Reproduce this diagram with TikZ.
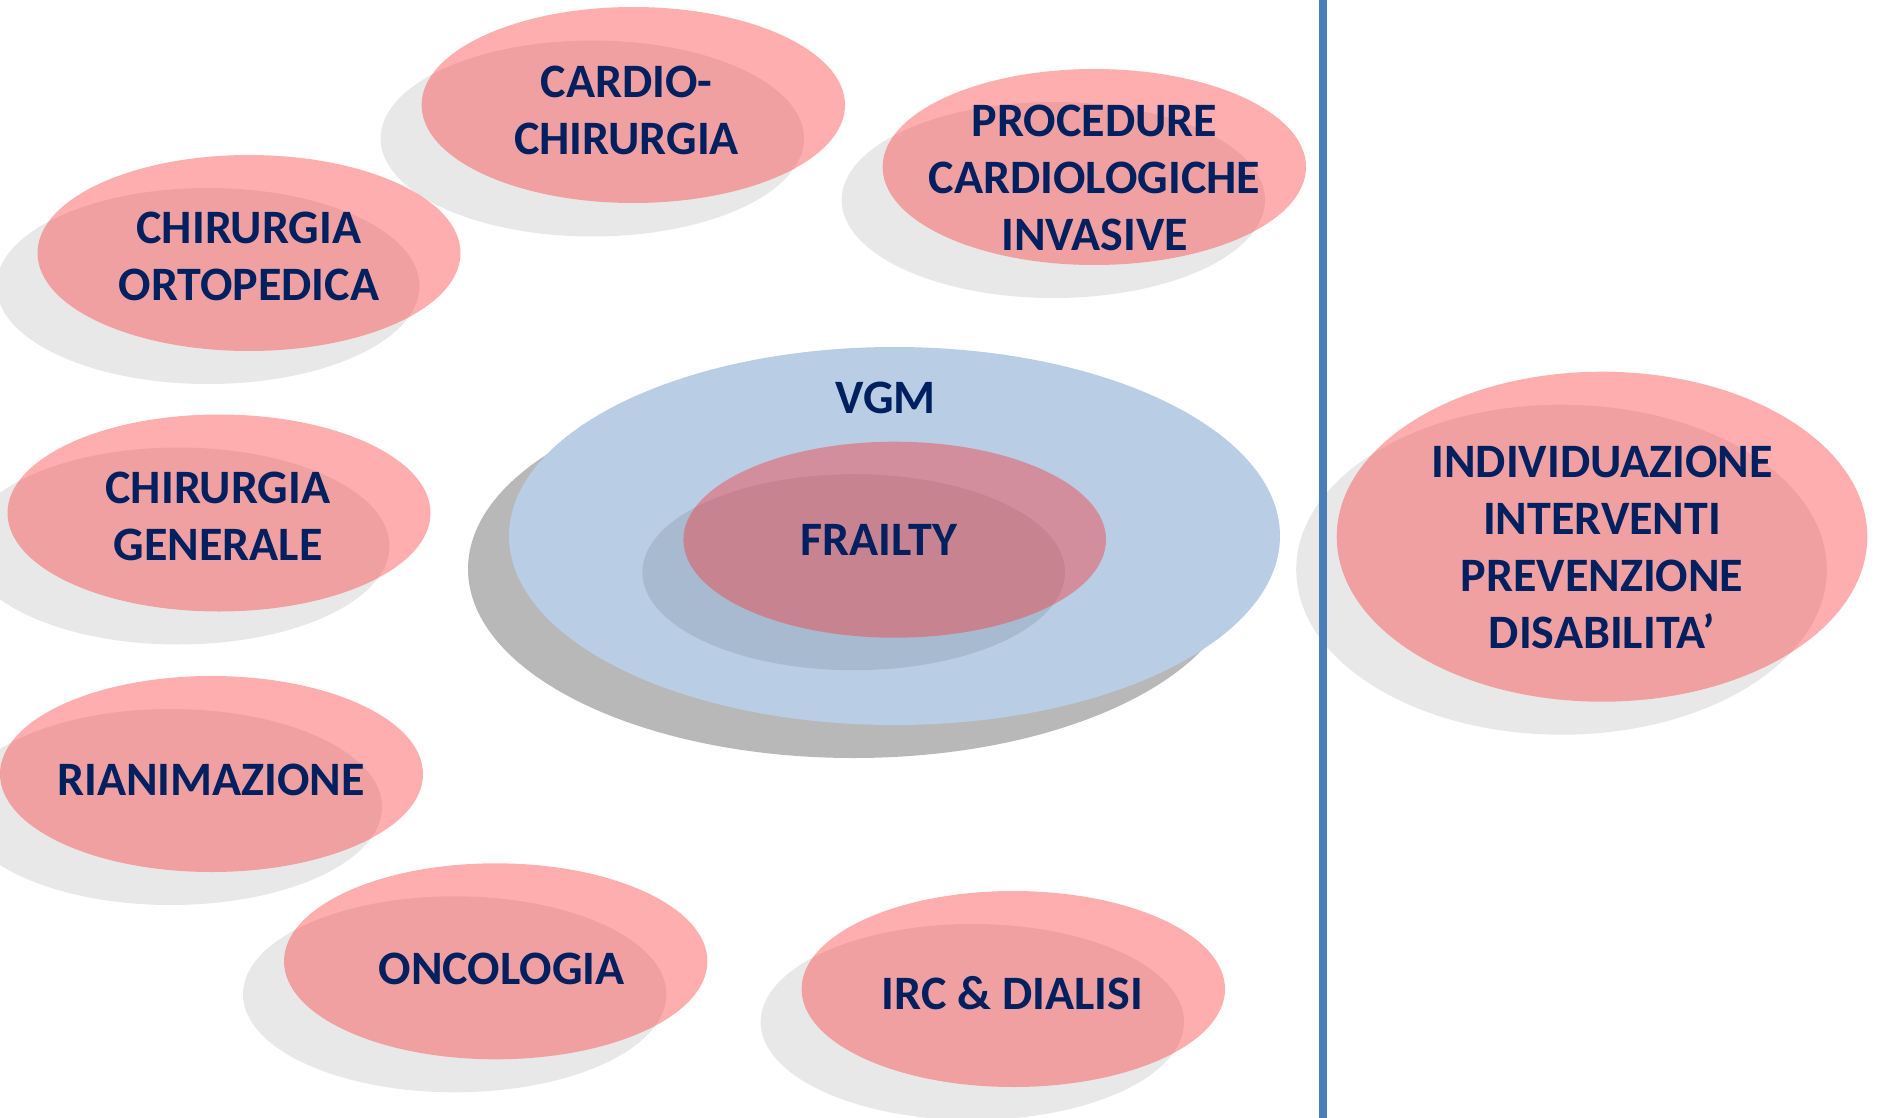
\documentclass[tikz,border=0pt]{standalone}
\usepackage{fontspec}
\setmainfont{Carlito}
\usetikzlibrary{shapes.geometric}

\definecolor{bubblepink}{RGB}{252,42,42}
\definecolor{navytext}{RGB}{0,32,96}
\definecolor{vgmblue}{RGB}{185,205,229}
\definecolor{dividerblue}{RGB}{74,126,187}

% translucent pink bubble with its soft drop shadow
% #1 name, #2 cx, #3 cy, #4 rx, #5 ry, #6 shadow dx, #7 shadow dy
\newcommand\bubbleblob[7]{%
  \fill[softshadow, shift={(#6,#7)}] (#2,#3) ellipse [x radius=#4, y radius=#5];
  \node[pinkshape, minimum width={2*#4pt}, minimum height={2*#5pt}] (#1) at (#2,#3) {};
}

\begin{document}
\begin{tikzpicture}[x=1pt,y=-1pt,
  softshadow/.style={fill=black, fill opacity=0.09},
  deepshadow/.style={fill=black!28},
  pinkshape/.style={ellipse, inner sep=0pt, outer sep=0pt, fill=bubblepink, fill opacity=0.38},
  blueshape/.style={ellipse, inner sep=0pt, outer sep=0pt, fill=vgmblue},
  bubbletext/.style={text=navytext, font=\fontsize{48}{57}\selectfont\bfseries, align=center, inner sep=0pt}
]
\useasboundingbox (0,0) rectangle (1878,1118);
\clip (0,0) rectangle (1878,1118);

% surgical and clinical settings
\bubbleblob{cardio}{633.3}{105}{211.7}{98}{-41}{33.5}
\bubbleblob{ortho}{249}{253}{211.5}{98}{-41}{33}
\bubbleblob{proc}{1094.3}{167}{211.7}{98}{-41}{33}
\bubbleblob{general}{219}{513}{211.5}{98.5}{-41}{33}
\bubbleblob{icu}{211.5}{774}{211.5}{98}{-41}{33}
\bubbleblob{onco}{495.7}{961.3}{211.7}{98}{-41}{33}
\bubbleblob{renal}{1013.3}{989}{211.7}{98}{-41}{33}

% central assessment with frailty inside
\fill[deepshadow, shift={(-41,33)}] (894.5,536) ellipse [x radius=385.5, y radius=189];
\node[blueshape, minimum width=771pt, minimum height=378pt] (vgm) at (894.5,536) {};
\bubbleblob{frailty}{894.7}{539.7}{211.3}{98}{-41}{32.5}

% outcome bubble on the right
\bubbleblob{outcome}{1602}{536.7}{265.3}{165}{-40.5}{33}

% vertical divider
\coordinate (divtop) at (1323,0);
\coordinate (divbot) at (1323,1118);
\draw[dividerblue, line width=7.5pt] (divtop) -- (divbot);

% labels
\node[bubbletext] (cardio-text) at (626.5,110) {CARDIO-\\CHIRURGIA};
\node[bubbletext] (ortho-text) at (249,256.7) {CHIRURGIA\\ORTOPEDICA};
\node[bubbletext] (proc-text) at (1094.5,178.3) {PROCEDURE\\CARDIOLOGICHE\\INVASIVE};
\node[bubbletext] (general-text) at (218,516.5) {CHIRURGIA\\GENERALE};
\node[bubbletext] (icu-text) at (211,779.5) {RIANIMAZIONE};
\node[bubbletext] (onco-text) at (501.7,968.8) {ONCOLOGIA};
\node[bubbletext] (renal-text) at (1012.5,993.3) {IRC \& DIALISI};
\node[bubbletext] (vgm-text) at (885.7,398) {VGM};
\node[bubbletext] (frailty-text) at (879,540) {FRAILTY};
\node[bubbletext] (outcome-text) at (1602,547.7) {INDIVIDUAZIONE\\INTERVENTI\\PREVENZIONE\\DISABILITA’};
\end{tikzpicture}
\end{document}
